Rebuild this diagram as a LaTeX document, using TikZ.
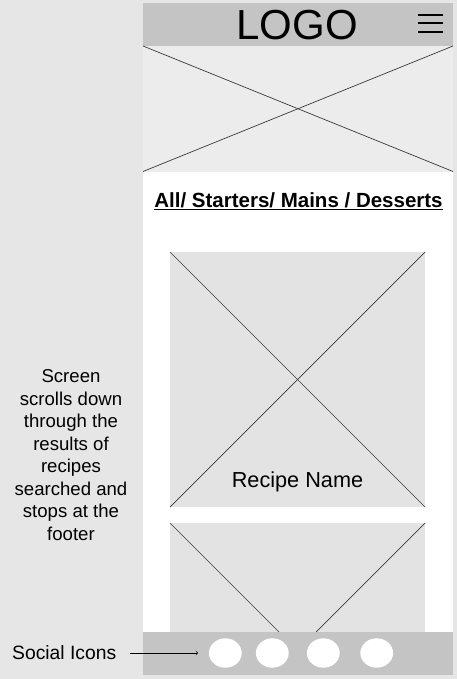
\documentclass[tikz,border=0pt]{standalone}
\usepackage{fontspec}
\setmainfont{Liberation Sans}
\usepackage{tikz}
\usetikzlibrary{positioning}
\usepackage{xcolor}
\definecolor{pagebg}{HTML}{E6E6E6}
\definecolor{barbg}{HTML}{C4C4C4}
\definecolor{herobg}{HTML}{ECECEC}
\definecolor{cardbg}{HTML}{E3E3E3}
\definecolor{wire}{HTML}{3A3A3A}
\tikzset{
	cross/.style={draw=wire, line width=0.7pt},
	note/.style={align=center, font=\fontsize{18.6}{22.5}\selectfont},
	iconspot/.style={fill=white}
}

\begin{document}
\begin{tikzpicture}[x=1pt, y=-1pt]
		\useasboundingbox (0,0) rectangle (457,679);
		\fill[pagebg] (0,0) rectangle (457,679);
		
		% phone screen
		\fill[white] (143,3.3) rectangle (453,675);
		\fill[barbg] (143,3.3) rectangle (453,46);
		\fill[herobg] (143,46) rectangle (453,171.5);
		\draw[cross] (143,46) -- (453,171.5);
		\draw[cross] (143,171.5) -- (453,46);
		
		\node[anchor=base, inner sep=0, font=\fontsize{42}{42}\selectfont] (logo) at (297,40) {LOGO};
		\foreach \y in {14.7, 23.3, 32}
		\draw[line width=2pt] (418,\y) -- (443,\y);
		
		\node[anchor=base, inner sep=0, font=\bfseries\fontsize{20.5}{21}\selectfont] (tabs) at (298.5,207) {\underline{All/ Starters/ Mains / Desserts}};
		
		% recipe cards
		\fill[cardbg] (170,252) rectangle (425,507);
		\draw[cross] (170,252) -- (425,507);
		\draw[cross] (170,507) -- (425,252);
		\node[anchor=base, inner sep=0, font=\fontsize{21.7}{22}\selectfont] (recipe) at (297.5,487) {Recipe Name};
		
		\begin{scope}
			\clip (143,172) rectangle (453,632);
			\fill[cardbg] (170,523) rectangle (425,778);
			\draw[cross] (170,523) -- (425,778);
			\draw[cross] (170,778) -- (425,523);
		\end{scope}
		
		% footer
		\fill[barbg] (143,632) rectangle (453,675);
		\foreach \x in {225.3, 272.3, 323.3, 376.7}
		\fill[iconspot] (\x,653) ellipse [x radius=16.4pt, y radius=14.7pt];
		
		\node[note] (scrollnote) at (71,455) {Screen\\scrolls down\\through the\\results of\\recipes\\searched and\\stops at the\\footer};
		
		\node[anchor=west, inner sep=0, font=\fontsize{19.3}{20}\selectfont] (social) at (12,653) {Social Icons};
		\coordinate (iconrow) at (198,653);
		\draw[->, line width=0.6pt] ([xshift=14pt]social.east) -- (iconrow);
	\end{tikzpicture}
\end{document}
